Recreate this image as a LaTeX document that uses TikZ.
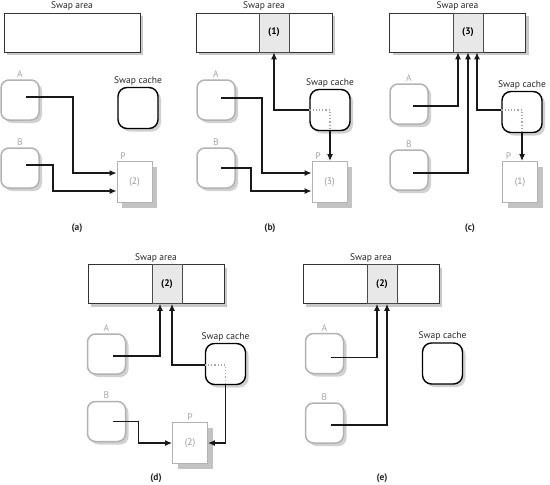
\documentclass[tikz,border=0pt]{standalone}
\usepackage{fontspec}
\setmainfont{PT Sans}
\usetikzlibrary{arrows.meta,shadows}

\begin{document}
\begin{tikzpicture}[
  x=1pt, y=-1pt,
  every node/.style={font=\fontsize{9.5}{11}\selectfont},
  lbl/.style={text=black!85, inner sep=1.5pt},
  glbl/.style={text=gray!70, inner sep=1.5pt},
  area/.style={draw=black!80, line width=1pt, fill=white, rectangle,
               minimum width=136pt, minimum height=39pt, inner sep=0pt,
               drop shadow={shadow xshift=3pt, shadow yshift=-3pt, fill=gray!60, opacity=.7}},
  slot/.style={draw=black!70, line width=0.6pt, fill=gray!18, rectangle,
               minimum width=30pt, minimum height=39pt, inner sep=0pt,
               font=\fontsize{9.5}{11}\selectfont\bfseries},
  proc/.style={draw=gray!60, line width=1.5pt, fill=white, rounded corners=8pt,
               minimum width=38pt, minimum height=40pt, inner sep=0pt,
               drop shadow={shadow xshift=3pt, shadow yshift=-3pt, fill=gray!60, opacity=.6}},
  cache/.style={draw=black, line width=1.4pt, fill=white, rounded corners=9pt,
                minimum width=40pt, minimum height=41pt, inner sep=0pt,
                drop shadow={shadow xshift=3pt, shadow yshift=-3pt, fill=gray!60, opacity=.6}},
  page/.style={draw=gray!60, line width=0.9pt, fill=white, rectangle,
               minimum width=35pt, minimum height=41pt, inner sep=0pt, text=gray!80,
               drop shadow={shadow xshift=5pt, shadow yshift=-5pt, fill=gray!55, opacity=.85}},
  arr/.style={-{Latex[length=7pt,width=6pt]}, line width=1.2pt, black!90},
  dots/.style={gray!70, line width=1.2pt, dotted},
  captxt/.style={font=\fontsize{9.5}{11}\selectfont\bfseries, text=black!85},
]
\useasboundingbox (0,0) rectangle (550,485);

%% ── Panel (a) ────────────────────────────────────────────────────────────────
\node[area, label={[lbl]above:Swap area}] (SAa) at (72,32.5) {};
\node[proc, label={[glbl]above:A}] (Aa) at (20,100) {};
\node[proc, label={[glbl]above:B}] (Ba) at (20,168) {};
\node[cache, label={[lbl]above:Swap cache}] (Ca) at (138,108) {};
\node[page, label={[glbl,anchor=south west,xshift=2pt]north west:P}] (Pa) at (134.5,182) {(2)};
\draw[arr] ([xshift=6pt,yshift=3pt]Aa.center) -- ++(47,0) |- ([yshift=9pt]Pa.west);
\draw[arr] ([xshift=6pt,yshift=3pt]Ba.center) -- ++(27,0) |- ([yshift=-9pt]Pa.west);
\node[captxt] (capa) at (77,228) {(a)};

%% ── Panel (b) ────────────────────────────────────────────────────────────────
\node[area, label={[lbl]above:Swap area}] (SAb) at (264,32.5) {};
\node[slot] (slotb) at (274,32.5) {(1)};
\node[proc, label={[glbl]above:A}] (Ab) at (216,100) {};
\node[proc, label={[glbl]above:B}] (Bb) at (216,168) {};
\node[cache, label={[lbl]above:Swap cache}] (Cb) at (330,110) {};
\node[page, label={[glbl,anchor=south west,xshift=2pt]north west:P}] (Pb) at (329.5,182) {(3)};
\draw[arr] ([xshift=5pt,yshift=2pt]Ab.center) -- ++(41,0) |- ([yshift=9pt]Pb.west);
\draw[arr] ([xshift=5pt]Bb.center) -- ++(30,0) |- ([yshift=-9pt]Pb.west);
\draw[dots] (Cb.west) -| (Cb.south);
\draw[arr] (Cb.west) -| (slotb.south);
\draw[arr] (Cb.south) -- (Cb.south |- Pb.north);
\node[captxt] (capb) at (270,228) {(b)};

%% ── Panel (c) ────────────────────────────────────────────────────────────────
\node[area, label={[lbl]above:Swap area}] (SAc) at (457.5,32.5) {};
\node[slot] (slotc) at (468,32.5) {(3)};
\node[proc, label={[glbl]above:A}] (Ac) at (409,104) {};
\node[proc, label={[glbl]above:B}] (Bc) at (409,170) {};
\node[cache, label={[lbl]above:Swap cache}] (Cc) at (522,112) {};
\node[page, label={[glbl,anchor=south west,xshift=2pt]north west:P}] (Pc) at (520,182) {(1)};
\draw[arr] ([xshift=4pt,yshift=-2pt]Ac.center) -| ([xshift=-10pt]slotc.south);
\draw[arr] ([xshift=4pt,yshift=-3pt]Bc.center) -| (slotc.south);
\draw[dots] ([yshift=2pt]Cc.west) -| (Cc.south);
\draw[arr] ([yshift=2pt]Cc.west) -| ([xshift=9pt]slotc.south);
\draw[arr] (Cc.south) -- (Cc.south |- Pc.north);
\node[captxt] (capc) at (470,228) {(c)};

%% ── Panel (d) ────────────────────────────────────────────────────────────────
\node[area, label={[lbl]above:Swap area}] (SAd) at (156,284) {};
\node[slot] (slotd) at (167,284) {(2)};
\node[proc, label={[glbl]above:A}] (Ad) at (106.5,354) {};
\node[proc, label={[glbl]above:B}] (Bd) at (106.5,421.5) {};
\node[cache, label={[lbl]above:Swap cache}] (Cd) at (225.5,364) {};
\node[page, label={[glbl]above:P}] (Pd) at (190,443) {(2)};
\draw[arr] ([xshift=6pt,yshift=-2pt]Ad.center) -| ([xshift=-7pt]slotd.south);
\draw[dots] ([yshift=-1pt]Cd.west) -| (Cd.south);
\draw[arr] ([yshift=-1pt]Cd.west) -| ([xshift=5pt]slotd.south);
\draw[arr] (Cd.south) |- (Pd.east);
\draw[arr] ([xshift=6pt]Bd.center) -- ++(26,0) |- (Pd.west);
\node[captxt] (capd) at (156,478) {(d)};

%% ── Panel (e) ────────────────────────────────────────────────────────────────
\node[area, label={[lbl]above:Swap area}] (SAe) at (371,284) {};
\node[slot] (slote) at (382,284) {(2)};
\node[proc, label={[glbl]above:A}] (Ae) at (324.5,353.5) {};
\node[proc, label={[glbl]above:B}] (Be) at (324.5,423) {};
\node[cache, label={[lbl]above:Swap cache}] (Ce) at (442.5,363.5) {};
\draw[arr] ([xshift=6pt,yshift=-4pt]Ae.center) -| ([xshift=-5pt]slote.south);
\draw[arr] ([xshift=6pt,yshift=-2pt]Be.center) -| ([xshift=5pt]slote.south);
\node[captxt] (cape) at (382,478) {(e)};

\end{tikzpicture}
\end{document}
